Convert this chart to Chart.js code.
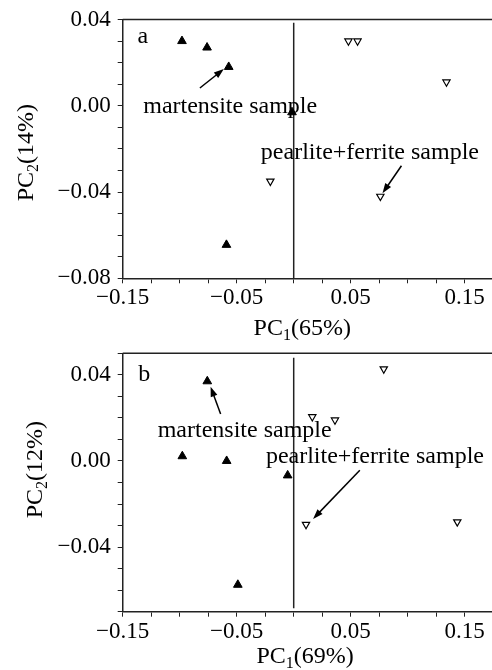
<!DOCTYPE html>
<html>
<head>
<meta charset="utf-8">
<script src="https://cdn.jsdelivr.net/npm/chart.js@4.4.1/dist/chart.umd.min.js"></script>
<style>
  html, body { margin: 0; padding: 0; background: #fff; }
  #wrap { position: relative; width: 492px; height: 670px; overflow: hidden; }
  .panel { position: absolute; left: 0; width: 500px; }
  #pa { top: 0; height: 342px; }
  #pb { top: 342px; height: 328px; }
</style>
</head>
<body>
<div id="wrap">
  <div class="panel" id="pa"><canvas id="chartA"></canvas></div>
  <div class="panel" id="pb"><canvas id="chartB"></canvas></div>
</div>
<script>
// panel a scores (PC1, PC2)
const martA_x = [-0.098, -0.076, -0.057, -0.0015, -0.059];
const martA_y = [0.030, 0.027, 0.018, -0.003, -0.0645];
const pearA_x = [0.048, 0.056, 0.134, -0.0205, 0.076];
const pearA_y = [0.030, 0.030, 0.011, -0.035, -0.042];

// panel b scores
const martB_x = [-0.0758, -0.0977, -0.0588, -0.0053, -0.049];
const martB_y = [0.037, 0.0022, 0.0, -0.0067, -0.0575];
const pearB_x = [0.079, 0.0163, 0.0362, 0.0108, 0.1435];
const pearB_y = [0.0427, 0.0205, 0.019, -0.0295, -0.0283];

// vertical divider at PC1 = 0
const vlineX = [0, 0];
const vlineYa = [0.0385, -0.08];
const vlineYb = [0.0479, -0.0684];

// tick labels
const xTickLabels = [-0.15, -0.05, 0.05, 0.15];
const yTickLabelsA = [-0.08, -0.04, 0, 0.04];
const yTickLabelsB = [-0.04, 0, 0.04];

const FONT = '"Liberation Serif", "Times New Roman", serif';
Chart.defaults.font.family = FONT;
Chart.defaults.color = '#000';

const pts = (xs, ys) => xs.map((x, i) => ({ x: x, y: ys[i] }));

const fmt = (v, list) => {
  const hit = list.some(t => Math.abs(t - v) < 1e-6);
  if (!hit) return '';
  return v.toFixed(2).replace('-', '\u2212');
};

function drawArrow(ctx, x1, y1, x2, y2) {
  const ang = Math.atan2(y2 - y1, x2 - x1), head = 10, half = 3.5;
  const c = Math.cos(ang), s = Math.sin(ang);
  ctx.strokeStyle = '#000';
  ctx.lineWidth = 1.5;
  ctx.beginPath();
  ctx.moveTo(x1, y1);
  ctx.lineTo(x2 - head * c * 0.8, y2 - head * s * 0.8);
  ctx.stroke();
  ctx.beginPath();
  ctx.moveTo(x2, y2);
  ctx.lineTo(x2 - head * c + half * s, y2 - head * s - half * c);
  ctx.lineTo(x2 - head * c - half * s, y2 - head * s + half * c);
  ctx.closePath();
  ctx.fill();
}

// "PC" + subscript + rest, centred on x
function drawSubText(ctx, parts, x, y) {
  const big = '24px ' + FONT, small = '16px ' + FONT;
  ctx.font = big;
  const w0 = ctx.measureText(parts[0]).width;
  const w2 = ctx.measureText(parts[2]).width;
  ctx.font = small;
  const w1 = ctx.measureText(parts[1]).width;
  let cx = x - (w0 + w1 + w2) / 2;
  ctx.textAlign = 'left';
  ctx.textBaseline = 'alphabetic';
  ctx.font = big;
  ctx.fillText(parts[0], cx, y);
  cx += w0;
  ctx.font = small;
  ctx.fillText(parts[1], cx, y + 5);
  cx += w1;
  ctx.font = big;
  ctx.fillText(parts[2], cx, y);
}

const decorPlugin = {
  id: 'decor',
  afterDatasetsDraw(chart, args, opts) {
    const ctx = chart.ctx, a = chart.chartArea;
    const xs = chart.scales.x, ys = chart.scales.y;
    ctx.save();
    // top frame
    ctx.strokeStyle = '#222';
    ctx.lineWidth = 1.5;
    ctx.beginPath();
    ctx.moveTo(a.left, a.top);
    ctx.lineTo(a.right, a.top);
    ctx.stroke();
    // labels inside the plot
    ctx.fillStyle = '#000';
    ctx.textAlign = 'left';
    ctx.textBaseline = 'alphabetic';
    opts.notes.forEach(n => {
      ctx.font = n.size + 'px ' + FONT;
      ctx.fillText(n.text, xs.getPixelForValue(n.x), ys.getPixelForValue(n.y));
    });
    opts.arrows.forEach(r => drawArrow(ctx,
      xs.getPixelForValue(r[0]), ys.getPixelForValue(r[1]),
      xs.getPixelForValue(r[2]), ys.getPixelForValue(r[3])));
    // axis titles
    drawSubText(ctx, opts.xTitle, xs.getPixelForValue(opts.xTitleAt), a.bottom + opts.xTitleDrop);
    ctx.translate(opts.yTitleX, ys.getPixelForValue(opts.yTitleAt));
    ctx.rotate(-Math.PI / 2);
    drawSubText(ctx, opts.yTitle, 0, 0);
    ctx.restore();
  }
};

function makeChart(id, cfg) {
  const H = cfg.height;
  return new Chart(document.getElementById(id), {
    type: 'scatter',
    data: {
      datasets: [
        { data: pts(cfg.mx, cfg.my), pointStyle: 'triangle', pointRadius: 5,
          backgroundColor: '#000', borderColor: '#000', borderWidth: 1 },
        { data: pts(cfg.px, cfg.py), pointStyle: 'triangle', pointRotation: 180, pointRadius: 4.2,
          backgroundColor: '#fff', borderColor: '#000', borderWidth: 1.2 },
        { type: 'line', data: pts(vlineX, cfg.vy), borderColor: '#222', borderWidth: 1.5,
          pointRadius: 0, fill: false }
      ]
    },
    options: {
      responsive: true,
      maintainAspectRatio: false,
      animation: false,
      layout: { padding: { top: cfg.top, right: 6.8, left: 0, bottom: 0 } },
      plugins: {
        legend: { display: false },
        tooltip: { enabled: false },
        decor: cfg.decor
      },
      scales: {
        x: {
          type: 'linear', min: -0.15, max: 0.175,
          afterFit(s) { s.height = H - cfg.bottom; s.paddingLeft = 0; s.paddingRight = 0; },
          ticks: { stepSize: 0.025, autoSkip: false, maxRotation: 0, padding: 1,
            font: { size: 23 }, color: '#000', callback: v => fmt(v, xTickLabels) },
          grid: { drawOnChartArea: false, drawTicks: true, tickLength: 5, color: '#222' },
          border: { color: '#222', width: 1.5 }
        },
        y: {
          type: 'linear', min: cfg.ymin, max: cfg.ymax,
          afterFit(s) { s.width = 122.7; s.paddingTop = 0; s.paddingBottom = 0; },
          ticks: { stepSize: 0.01, autoSkip: false, padding: 7,
            font: { size: 23 }, color: '#000', callback: v => fmt(v, cfg.ylabels) },
          grid: { drawOnChartArea: false, drawTicks: true, tickLength: 5, color: '#222' },
          border: { color: '#222', width: 1.5 }
        }
      }
    },
    plugins: [decorPlugin]
  });
}

makeChart('chartA', {
  height: 342, top: 19.5, bottom: 278.3, ymin: -0.08, ymax: 0.04,
  mx: martA_x, my: martA_y, px: pearA_x, py: pearA_y, vy: vlineYa, ylabels: yTickLabelsA,
  decor: {
    notes: [
      { text: 'a', x: -0.137, y: 0.029, size: 24 },
      { text: 'martensite sample', x: -0.132, y: -0.0035, size: 24 },
      { text: 'pearlite+ferrite sample', x: -0.0288, y: -0.0248, size: 24 }
    ],
    arrows: [
      [-0.0823, 0.00824, -0.0613, 0.01705],
      [0.0945, -0.0278, 0.0779, -0.0406]
    ],
    xTitle: ['PC', '1', '(65%)'], xTitleAt: 0.0075, xTitleDrop: 56.7,
    yTitle: ['PC', '2', '(14%)'], yTitleX: 33.3, yTitleAt: -0.0217
  }
});

makeChart('chartB', {
  height: 328, top: 11.3, bottom: 269.7, ymin: -0.07, ymax: 0.05,
  mx: martB_x, my: martB_y, px: pearB_x, py: pearB_y, vy: vlineYb, ylabels: yTickLabelsB,
  decor: {
    notes: [
      { text: 'b', x: -0.1363, y: 0.0373, size: 24 },
      { text: 'martensite sample', x: -0.1193, y: 0.0112, size: 24 },
      { text: 'pearlite+ferrite sample', x: -0.0244, y: -0.0011, size: 24 }
    ],
    arrows: [
      [-0.0641, 0.0218, -0.0729, 0.0345],
      [0.0580, -0.0043, 0.0170, -0.0269]
    ],
    xTitle: ['PC', '1', '(69%)'], xTitleAt: 0.01, xTitleDrop: 51.6,
    yTitle: ['PC', '2', '(12%)'], yTitleX: 42, yTitleAt: -0.004
  }
});
</script>
</body>
</html>
